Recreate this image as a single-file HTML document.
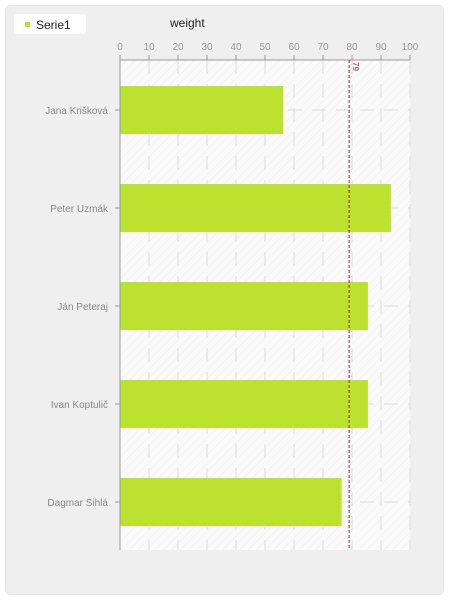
<!DOCTYPE html>
<html><head><meta charset="utf-8"><style>
body{margin:0;background:#fff;font-family:"Liberation Sans","DejaVu Sans",sans-serif}
</style></head><body>
<svg width="450" height="600" xmlns="http://www.w3.org/2000/svg">
<defs>
<pattern id="hatch" width="6" height="6" patternUnits="userSpaceOnUse" patternTransform="rotate(45)">
<rect width="6" height="6" fill="#fafafa"/><line x1="0" y1="0" x2="0" y2="6" stroke="#ececec" stroke-width="1"/>
</pattern>
</defs>
<rect x="5.5" y="5.5" width="438" height="589" rx="5" fill="#efefef" stroke="#e4e4e4"/>
<g>
<rect x="14" y="14" width="72" height="20" rx="4" fill="#fff"/>
<rect x="25" y="22" width="5" height="5" fill="#bde12f"/>
<text x="36" y="29" font-size="12" fill="#222">Serie1</text>
</g>
<text x="170" y="27" font-size="12" fill="#222">weight</text>
<rect x="120" y="60" width="290" height="490" fill="url(#hatch)"/>
<g id="grid"></g>
<g id="bars"></g>
<g id="axes"></g>
</svg>
<script>
const categories=["Jana Krišková","Peter Uzmák","Ján Peteraj","Ivan Koptulič","Dagmar Sihlá"];
const values=[56.3,93.4,85.5,85.5,76.4];
const xTicks=[0,10,20,30,40,50,60,70,80,90,100];
const refValue=[79];
const NS="http://www.w3.org/2000/svg";
const L=120,R=410,T=60,B=550;
const x=v=>L+(v-0)/(100-0)*(R-L);
const band=(B-T)/categories.length;
const yc=i=>T+1+band*(i+0.5);
function mk(tag,attrs,parent,txt){const e=document.createElementNS(NS,tag);for(const k in attrs)e.setAttribute(k,attrs[k]);if(txt!==undefined)e.textContent=txt;document.getElementById(parent).appendChild(e);return e;}
xTicks.forEach(t=>{
 if(t>0){const g=mk('line',{x1:x(t),x2:x(t),y1:T,y2:B,stroke:'#dcdcdc','stroke-dasharray':'14,10'},'grid');
 
 }
 const tk=mk('line',{x1:x(t),x2:x(t),y1:T-5,y2:T,stroke:'#999'},'axes');
 
 
 const lb=mk('text',{x:x(t),y:50,'font-size':10,fill:'#999','text-anchor':'middle'},'axes',String(t));
 
 
});
categories.forEach((c,i)=>{
 const g=mk('line',{x1:L,x2:R,y1:yc(i),y2:yc(i),stroke:'#dcdcdc','stroke-dasharray':'14,10'},'grid');
 
 
 const b=mk('rect',{x:x(0),y:yc(i)-24,width:x(values[i])-x(0),height:48,fill:'#bde12f'},'bars');
 
 
 const tk=mk('line',{x1:L-5,x2:L,y1:yc(i),y2:yc(i),stroke:'#999'},'axes');
 
 
 const lb=mk('text',{x:L-12,y:yc(i)+4,'font-size':10,fill:'#888','text-anchor':'end'},'axes',c);
 
 
});
const ax=mk('line',{x1:L,x2:R,y1:T,y2:T,stroke:'#999'},'axes');


const ay=mk('line',{x1:L,x2:L,y1:T,y2:B,stroke:'#999'},'axes');


const rl=mk('line',{x1:x(refValue[0]),x2:x(refValue[0]),y1:T,y2:B,stroke:'#8b2a3a','stroke-dasharray':'3,2'},'axes');


const rt=mk('text',{x:0,y:0,'font-size':8,fill:'#8b2a3a',transform:`translate(${x(refValue[0])+4},${T+2}) rotate(90)`},'axes',String(refValue[0]));


</script>
</body></html>
